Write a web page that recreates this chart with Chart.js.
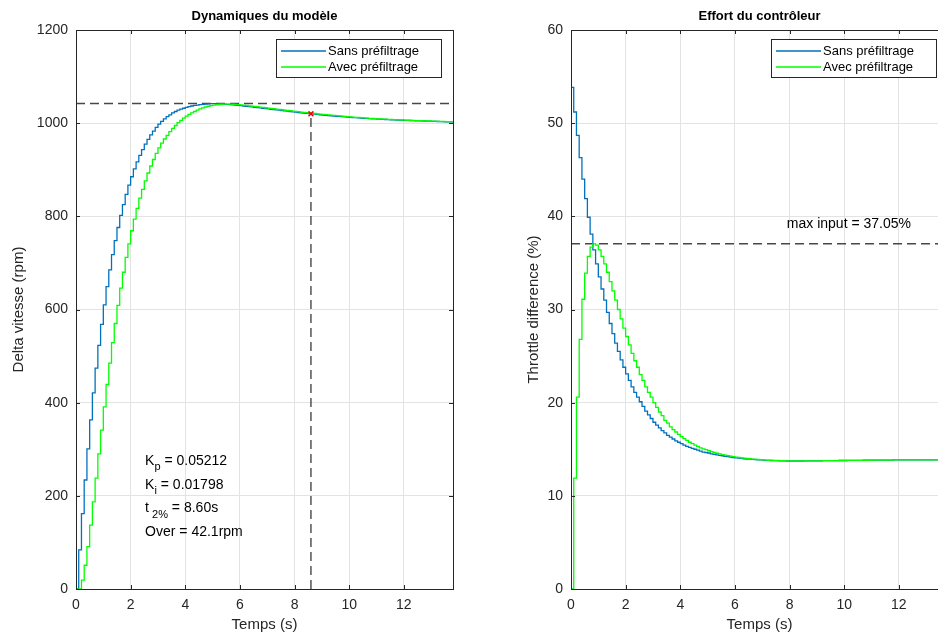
<!DOCTYPE html>
<html>
<head>
<meta charset="utf-8">
<script src="https://cdn.jsdelivr.net/npm/chart.js@4.4.1/dist/chart.umd.min.js"></script>
<style>
html, body { margin: 0; padding: 0; background: #fff; }
body { width: 938px; height: 634px; overflow: hidden; position: relative; }
.box { position: absolute; top: 0; width: 470px; height: 634px; }
</style>
</head>
<body>
<div class="box" style="left:0"><canvas id="speedChart"></canvas></div>
<div class="box" style="left:495px"><canvas id="effortChart"></canvas></div>
<script>
// sample times (s), Ts = 0.1
var time = [
  0, 0.1, 0.2, 0.3, 0.4, 0.5, 0.6, 0.7, 0.8, 0.9,
  1, 1.1, 1.2, 1.3, 1.4, 1.5, 1.6, 1.7, 1.8, 1.9,
  2, 2.1, 2.2, 2.3, 2.4, 2.5, 2.6, 2.7, 2.8, 2.9,
  3, 3.1, 3.2, 3.3, 3.4, 3.5, 3.6, 3.7, 3.8, 3.9,
  4, 4.1, 4.2, 4.3, 4.4, 4.5, 4.6, 4.7, 4.8, 4.9,
  5, 5.1, 5.2, 5.3, 5.4, 5.5, 5.6, 5.7, 5.8, 5.9,
  6, 6.1, 6.2, 6.3, 6.4, 6.5, 6.6, 6.7, 6.8, 6.9,
  7, 7.1, 7.2, 7.3, 7.4, 7.5, 7.6, 7.7, 7.8, 7.9,
  8, 8.1, 8.2, 8.3, 8.4, 8.5, 8.6, 8.7, 8.8, 8.9,
  9, 9.1, 9.2, 9.3, 9.4, 9.5, 9.6, 9.7, 9.8, 9.9,
  10, 10.1, 10.2, 10.3, 10.4, 10.5, 10.6, 10.7, 10.8, 10.9,
  11, 11.1, 11.2, 11.3, 11.4, 11.5, 11.6, 11.7, 11.8, 11.9,
  12, 12.1, 12.2, 12.3, 12.4, 12.5, 12.6, 12.7, 12.8, 12.9,
  13, 13.1, 13.2, 13.3, 13.4, 13.5, 13.6, 13.7, 13.8
];

// delta vitesse (rpm)
var speedNoFilter = [
  0, 84, 162, 234, 301, 363, 421, 474, 523, 568,
  610, 649, 685, 718, 748, 776, 802, 825, 847, 867,
  885, 902, 917, 931, 943, 955, 965, 975, 983, 991,
  998, 1004, 1009, 1014, 1018, 1022, 1025, 1028, 1030, 1032,
  1034, 1035.6, 1036.9, 1038, 1038.9, 1039.7, 1040.4, 1041, 1041.5, 1041.9,
  1042.1, 1042, 1041.7, 1041.4, 1041, 1040.5, 1040, 1039.4, 1038.8, 1038.2,
  1037.6, 1036.9, 1036.2, 1035.5, 1034.8, 1034.1, 1033.4, 1032.7, 1032, 1031.3,
  1030.6, 1029.9, 1029.2, 1028.5, 1027.8, 1027.1, 1026.4, 1025.7, 1025, 1024.3,
  1023.6, 1022.9, 1022.3, 1021.7, 1021.1, 1020.5, 1019.9, 1019.3, 1018.7, 1018.1,
  1017.5, 1017, 1016.4, 1015.9, 1015.4, 1014.9, 1014.4, 1013.9, 1013.4, 1013,
  1012.5, 1012.1, 1011.7, 1011.3, 1010.9, 1010.5, 1010.1, 1009.8, 1009.4, 1009.1,
  1008.8, 1008.5, 1008.2, 1007.9, 1007.6, 1007.3, 1007.1, 1006.8, 1006.6, 1006.3,
  1006.1, 1005.9, 1005.7, 1005.4, 1005.2, 1005, 1004.8, 1004.6, 1004.4, 1004.2,
  1004, 1003.8, 1003.6, 1003.4, 1003.2, 1003, 1002.8, 1002.6, 1002.4
];
var speedWithFilter = [
  0, 0, 19, 51, 91, 137, 187, 238, 290, 341,
  391, 439, 485, 529, 570, 609, 646, 680, 712, 741,
  769, 794, 817, 839, 858, 876, 893, 908, 922, 935,
  947, 957, 966, 974, 982, 989, 995, 1001, 1006, 1011,
  1015, 1019, 1022, 1025, 1028, 1030.6, 1032.8, 1034.7, 1036.3, 1037.6,
  1038.7, 1039.5, 1040.1, 1040.6, 1040.9, 1041, 1040.9, 1040.6, 1040.2, 1039.7,
  1039.2, 1038.6, 1038, 1037.3, 1036.6, 1035.9, 1035.2, 1034.5, 1033.8, 1033.1,
  1032.4, 1031.7, 1031, 1030.2, 1029.5, 1028.8, 1028.1, 1027.4, 1026.7, 1026,
  1025.3, 1024.6, 1023.9, 1023.2, 1022.6, 1022, 1021.3, 1020.7, 1020.1, 1019.5,
  1018.9, 1018.3, 1017.7, 1017.1, 1016.6, 1016, 1015.5, 1015, 1014.5, 1014,
  1013.5, 1013, 1012.6, 1012.2, 1011.7, 1011.3, 1010.9, 1010.5, 1010.1, 1009.8,
  1009.4, 1009.1, 1008.8, 1008.5, 1008.2, 1007.9, 1007.6, 1007.3, 1007, 1006.8,
  1006.5, 1006.3, 1006.1, 1005.8, 1005.6, 1005.4, 1005.2, 1005, 1004.8, 1004.6,
  1004.4, 1004.2, 1004, 1003.8, 1003.6, 1003.4, 1003.2, 1003, 1002.8
];

// throttle difference (%)
var throttleNoFilter = [
  53.85, 51.2, 48.7, 46.3, 44, 41.9, 39.9, 38.1, 36.4, 34.9,
  33.5, 32.2, 31, 29.7, 28.5, 27.4, 26.4, 25.5, 24.6, 23.8,
  23.1, 22.4, 21.7, 21.1, 20.6, 20.1, 19.6, 19.1, 18.7, 18.3,
  17.9, 17.6, 17.3, 17, 16.75, 16.5, 16.3, 16.1, 15.9, 15.75,
  15.6, 15.45, 15.3, 15.2, 15.1, 15, 14.9, 14.8, 14.7, 14.65,
  14.6, 14.5, 14.45, 14.4, 14.35, 14.3, 14.25, 14.2, 14.15, 14.1,
  14.07, 14.04, 14.01, 13.98, 13.95, 13.93, 13.91, 13.89, 13.87, 13.85,
  13.83, 13.81, 13.8, 13.79, 13.78, 13.77, 13.76, 13.75, 13.75, 13.74,
  13.74, 13.74, 13.74, 13.74, 13.74, 13.75, 13.75, 13.75, 13.75, 13.76,
  13.76, 13.76, 13.77, 13.77, 13.77, 13.78, 13.78, 13.78, 13.79, 13.79,
  13.79, 13.8, 13.8, 13.8, 13.81, 13.81, 13.81, 13.82, 13.82, 13.82,
  13.83, 13.83, 13.83, 13.83, 13.84, 13.84, 13.84, 13.84, 13.85, 13.85,
  13.85, 13.85, 13.85, 13.86, 13.86, 13.86, 13.86, 13.86, 13.87, 13.87,
  13.87, 13.87, 13.87, 13.87, 13.88, 13.88, 13.88, 13.88, 13.88
];
var throttleWithFilter = [
  0, 11.9, 20.6, 26.8, 31.1, 33.9, 35.7, 36.7, 37.05, 36.9,
  36.4, 35.7, 34.9, 34, 33, 32, 31, 30, 29, 28,
  27.1, 26.2, 25.3, 24.5, 23.8, 23, 22.4, 21.7, 21.1, 20.6,
  20, 19.5, 19, 18.6, 18.1, 17.8, 17.4, 17.1, 16.85, 16.6,
  16.35, 16.15, 15.95, 15.75, 15.6, 15.45, 15.3, 15.15, 15.05, 14.95,
  14.85, 14.75, 14.65, 14.57, 14.5, 14.43, 14.37, 14.31, 14.26, 14.21,
  14.16, 14.12, 14.08, 14.04, 14.01, 13.98, 13.95, 13.93, 13.9, 13.88,
  13.86, 13.84, 13.82, 13.81, 13.8, 13.79, 13.78, 13.77, 13.76, 13.75,
  13.75, 13.74, 13.74, 13.74, 13.74, 13.75, 13.75, 13.75, 13.75, 13.76,
  13.76, 13.76, 13.77, 13.77, 13.77, 13.78, 13.78, 13.78, 13.79, 13.79,
  13.79, 13.8, 13.8, 13.8, 13.81, 13.81, 13.81, 13.82, 13.82, 13.82,
  13.83, 13.83, 13.83, 13.83, 13.84, 13.84, 13.84, 13.84, 13.85, 13.85,
  13.85, 13.85, 13.85, 13.86, 13.86, 13.86, 13.86, 13.86, 13.87, 13.87,
  13.87, 13.87, 13.87, 13.87, 13.88, 13.88, 13.88, 13.88, 13.88
];

// controller / performance figures
var Kp = 0.05212;
var Ki = 0.01798;
var settleTime = 8.6;     // t 2%
var settleLevel = 1020;   // 2% band
var overshoot = 42.1;     // rpm
var peakSpeed = 1042.1;
var maxInput = 37.05;     // %

var speedTicks = [0, 1200, 200];
var effortTicks = [0, 60, 10];
var timeTicks = [0, 13.8, 2];

var blue = '#0072bd';
var green = '#00ff00';
var fontFamily = '"Liberation Sans", Arial, Helvetica, sans-serif';

Chart.defaults.font.family = fontFamily;
Chart.defaults.color = '#262626';

function points(ys) {
  return time.map(function (t, i) { return { x: t, y: ys[i] }; });
}

function stairs(label, ys, color, order) {
  return {
    label: label, data: points(ys), borderColor: color, backgroundColor: color,
    borderWidth: 1.3, pointRadius: 0, stepped: true, fill: false, order: order
  };
}

function dashed(data) {
  return {
    label: '', data: data, borderColor: 'rgba(0,0,0,0.72)', borderWidth: 1.4,
    borderDash: [9, 5], pointRadius: 0, fill: false, order: 2
  };
}

// frame, inner tick marks, legend box and text notes (matlab look)
var matlabBits = {
  id: 'matlabBits',
  afterDatasetsDraw: function (chart, args, opts) {
    var ctx = chart.ctx, a = chart.chartArea, xs = chart.scales.x, ys = chart.scales.y;
    ctx.save();
    ctx.strokeStyle = '#262626';
    ctx.lineWidth = 1;
    ctx.beginPath();
    xs.ticks.forEach(function (t) {
      var px = Math.round(xs.getPixelForValue(t.value)) + 0.5;
      ctx.moveTo(px, a.bottom); ctx.lineTo(px, a.bottom - 4);
      ctx.moveTo(px, a.top); ctx.lineTo(px, a.top + 4);
    });
    ys.ticks.forEach(function (t) {
      var py = Math.round(ys.getPixelForValue(t.value)) + 0.5;
      ctx.moveTo(a.left, py); ctx.lineTo(a.left + 4, py);
      ctx.moveTo(a.right, py); ctx.lineTo(a.right - 4, py);
    });
    ctx.stroke();
    ctx.strokeRect(Math.round(a.left) + 0.5, Math.round(a.top) + 0.5,
      Math.round(a.right - a.left), Math.round(a.bottom - a.top));

    // legend
    var bx = Math.round(a.right) - 177, by = Math.round(a.top) + 9;
    ctx.fillStyle = '#fff';
    ctx.fillRect(bx, by, 165, 38);
    ctx.strokeRect(bx + 0.5, by + 0.5, 165, 38);
    ctx.font = '13px ' + fontFamily;
    ctx.textBaseline = 'middle';
    opts.entries.forEach(function (e, i) {
      var ly = by + 12 + i * 16;
      ctx.strokeStyle = e.color;
      ctx.lineWidth = 1.5;
      ctx.beginPath();
      ctx.moveTo(bx + 5, ly); ctx.lineTo(bx + 50, ly);
      ctx.stroke();
      ctx.fillStyle = '#000';
      ctx.fillText(e.label, bx + 52, ly + 0.5);
    });

    // notes
    (opts.notes || []).forEach(function (n) {
      var x0 = xs.getPixelForValue(n.x), y0 = ys.getPixelForValue(n.y);
      n.lines.forEach(function (parts, li) {
        var cx = x0, cy = y0 + li * 23.8;
        parts.forEach(function (p) {
          ctx.font = (p[1] ? '11px ' : '14px ') + fontFamily;
          ctx.fillStyle = '#000';
          ctx.fillText(p[0], cx, p[1] ? cy + 6 : cy);
          cx += ctx.measureText(p[0]).width;
        });
      });
    });
    ctx.restore();
  }
};

function plainTick(v) { return String(v); }

function baseOptions(title, yTitle, yRange, padLeft, yWidth, extra) {
  return {
    responsive: true,
    maintainAspectRatio: false,
    animation: false,
    layout: { padding: { left: padLeft, right: 17, top: 0, bottom: 0 } },
    plugins: {
      legend: { display: false },
      tooltip: { enabled: false },
      title: {
        display: true, text: title, color: '#000', fullSize: false,
        font: { size: 13, weight: 'bold' }, padding: { top: 9, bottom: 5.4 }
      },
      matlabBits: extra
    },
    scales: {
      x: {
        type: 'linear', min: timeTicks[0], max: timeTicks[1],
        ticks: { stepSize: timeTicks[2], includeBounds: false, padding: 8, font: { size: 14 }, color: '#262626', callback: plainTick },
        grid: { color: '#e3e3e3', drawTicks: false },
        border: { display: false },
        title: { display: true, text: 'Temps (s)', font: { size: 15 }, color: '#262626', padding: { top: 0, bottom: 0 } },
        afterFit: function (s) { s.height = 45; }
      },
      y: {
        min: yRange[0], max: yRange[1],
        ticks: { stepSize: yRange[2], padding: 8, font: { size: 14 }, color: '#262626', callback: plainTick },
        grid: { color: '#e3e3e3', drawTicks: false },
        border: { display: false },
        title: { display: true, text: yTitle, font: { size: 15 }, color: '#262626', padding: { top: 10, bottom: 0 } },
        afterFit: function (s) { s.width = yWidth; }
      }
    }
  };
}

var legendEntries = [
  { label: 'Sans préfiltrage', color: blue },
  { label: 'Avec préfiltrage', color: green }
];

new Chart(document.getElementById('speedChart'), {
  type: 'line',
  data: {
    datasets: [
      {
        label: 't2%', data: [{ x: settleTime, y: settleLevel }], showLine: false,
        pointStyle: 'crossRot', pointRadius: 3.5, borderColor: '#ff0000', borderWidth: 1.5, order: -1
      },
      stairs('Avec préfiltrage', speedWithFilter, green, 0),
      stairs('Sans préfiltrage', speedNoFilter, blue, 1),
      dashed([{ x: timeTicks[0], y: peakSpeed }, { x: timeTicks[1], y: peakSpeed }]),
      dashed([{ x: settleTime, y: 0 }, { x: settleTime, y: settleLevel }])
    ]
  },
  options: baseOptions('Dynamiques du modèle', 'Delta vitesse (rpm)', speedTicks, 0, 76, {
    entries: legendEntries,
    notes: [{
      x: 2.53, y: 275,
      lines: [
        [['K', 0], ['p', 1], [' = ' + Kp.toFixed(5), 0]],
        [['K', 0], ['i', 1], [' = ' + Ki.toFixed(5), 0]],
        [['t', 0], [' 2%', 1], [' = ' + settleTime.toFixed(2) + 's', 0]],
        [['Over = ' + overshoot.toFixed(1) + 'rpm', 0]]
      ]
    }]
  }),
  plugins: [matlabBits]
});

new Chart(document.getElementById('effortChart'), {
  type: 'line',
  data: {
    datasets: [
      stairs('Avec préfiltrage', throttleWithFilter, green, 0),
      stairs('Sans préfiltrage', throttleNoFilter, blue, 1),
      dashed([{ x: timeTicks[0], y: maxInput }, { x: timeTicks[1], y: maxInput }])
    ]
  },
  options: baseOptions('Effort du contrôleur', 'Throttle difference (%)', effortTicks, 20, 56, {
    entries: legendEntries,
    notes: [{ x: 7.9, y: 39.2, lines: [[['max input = ' + maxInput.toFixed(2) + '%', 0]]] }]
  }),
  plugins: [matlabBits]
});
</script>
</body>
</html>
